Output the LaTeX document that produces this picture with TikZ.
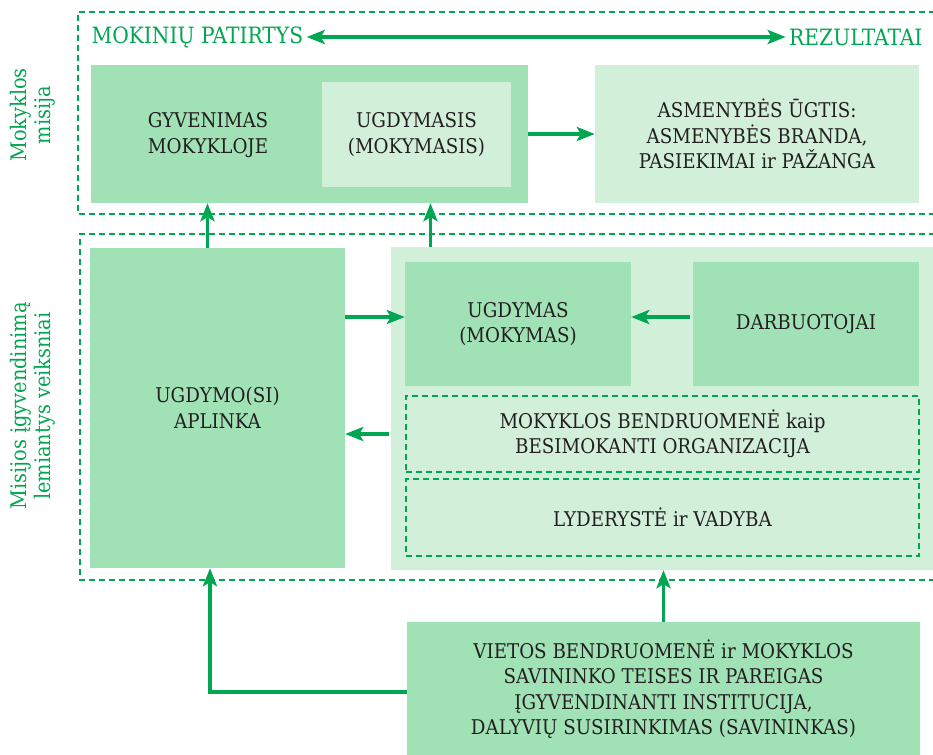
\documentclass[tikz,border=0pt]{standalone}
\usepackage{fontspec}
\setmainfont{DejaVu Serif Condensed}
\usepackage{tikz}
\usetikzlibrary{arrows.meta}
\definecolor{mgreen}{HTML}{00A651}
\definecolor{darkfill}{HTML}{A0E1B5}
\definecolor{lightfill}{HTML}{D2EFD9}
\definecolor{mtext}{HTML}{231F20}

\begin{document}
\begin{tikzpicture}[x=1pt,y=-1pt,
  arr/.style={draw=mgreen,line width=3.5pt,-{Stealth[length=18pt,width=14pt,inset=4pt]}},
  dbl arr/.style={draw=mgreen,line width=3.5pt,{Stealth[length=18pt,width=14pt,inset=4pt]}-{Stealth[length=18pt,width=14pt,inset=4pt]}},
  frame/.style={draw=mgreen,line width=2pt,dash pattern=on 6pt off 4pt},
  dark box/.style={fill=darkfill,inner sep=0pt,text=mtext,align=center,font=\fontsize{20.3}{25.5}\selectfont},
  light box/.style={fill=lightfill,inner sep=0pt,text=mtext,align=center,font=\fontsize{20.3}{25.5}\selectfont},
  dash box/.style={frame,inner sep=0pt,text=mtext,align=center,font=\fontsize{20.3}{25.5}\selectfont},
  box text/.style={text=mtext,align=center,font=\fontsize{20.3}{25.5}\selectfont},
  green label/.style={text=mgreen,font=\fontsize{22.5}{24}\selectfont},
  side label/.style={text=mgreen,align=center,rotate=90,font=\fontsize{21.5}{24}\selectfont}]
  \useasboundingbox (0,0) rectangle (933,754);

  % outer frames
  \draw[frame] (935,12) -- (78,12) -- (78,214) -- (935,214);
  \draw[frame] (935,234) -- (80,234) -- (80,580) -- (935,580);

  \node[side label] (lblmis) at (33,115) {Mokyklos\\misija};
  \node[side label] (lblveik) at (33,406) {Misijos įgyvendinimą\\lemiantys veiksniai};

  % mission
  \node[green label,anchor=west] (pat) at (88,37) {MOKINIŲ PATIRTYS};
  \node[green label,anchor=east] (rez) at (926,37) {REZULTATAI};
  \node[dark box,minimum width=437pt,minimum height=138pt] (misija) at (309.5,134) {};
  \node[box text] (gyv) at (208,135) {GYVENIMAS\\MOKYKLOJE};
  \node[light box,minimum width=189pt,minimum height=105pt] (ugd) at (416.5,134.5) {UGDYMASIS\\(MOKYMASIS)};
  \node[light box,minimum width=324pt,minimum height=138pt] (asm) at (757,134) {ASMENYBĖS ŪGTIS:\\ASMENYBĖS BRANDA,\\PASIEKIMAI ir PAŽANGA};

  % factors
  \node[dark box,minimum width=255pt,minimum height=320pt] (apl) at (217.5,408) {UGDYMO(SI)\\APLINKA};
  \node[light box,minimum width=542pt,minimum height=323pt] (veik) at (662,408.5) {};
  \node[dark box,minimum width=226pt,minimum height=124pt] (ugdm) at (518,324) {UGDYMAS\\(MOKYMAS)};
  \node[dark box,minimum width=226pt,minimum height=124pt] (darb) at (806,324) {DARBUOTOJAI};
  \node[dash box,minimum width=513pt,minimum height=76pt] (bendr) at (662.5,434) {MOKYKLOS BENDRUOMENĖ kaip\\BESIMOKANTI ORGANIZACIJA};
  \node[dash box,minimum width=513pt,minimum height=77pt] (lyd) at (662.5,517.5) {LYDERYSTĖ ir VADYBA};
  \node[dark box,minimum width=513pt,minimum height=134pt] (viet) at (663.5,689) {VIETOS BENDRUOMENĖ ir MOKYKLOS\\SAVININKO TEISES IR PAREIGAS\\ĮGYVENDINANTI INSTITUCIJA,\\DALYVIŲ SUSIRINKIMAS (SAVININKAS)};

  % connectors
  \coordinate (ugdin) at ([yshift=7pt]ugdm.west);
  \draw[dbl arr] (pat.east) -- (rez.west);
  \draw[arr] (misija.east) -- (asm.west);
  \draw[arr] ([xshift=-10pt]apl.north) -- ([xshift=-10pt]apl.north |- misija.south);
  \draw[arr] ([xshift=14pt]ugd.south |- veik.north) -- ([xshift=14pt]ugd.south |- misija.south);
  \draw[arr] (apl.east |- ugdin) -- (ugdin);
  \draw[arr] ([xshift=-3pt]darb.west |- ugdin) -- (ugdm.east |- ugdin);
  \draw[arr] ([xshift=-2pt]veik.west |- bendr.west) -- (apl.east |- bendr.west);
  \draw[arr] (viet.north) -- (viet.north |- veik.south);
  \draw[arr] ([yshift=-3pt]viet.west) -| ([xshift=-7.5pt]apl.south);
\end{tikzpicture}
\end{document}
